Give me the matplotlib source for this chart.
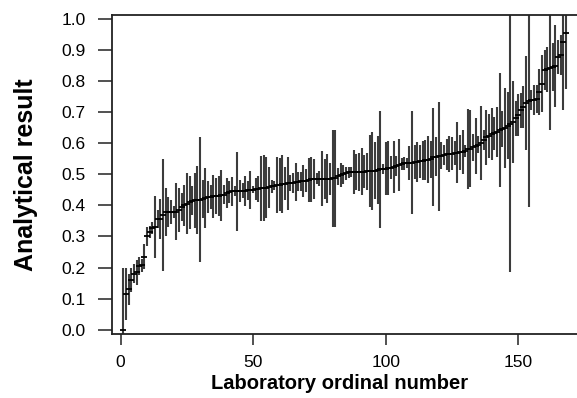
import numpy as np
import matplotlib
matplotlib.use('Agg')
import matplotlib.pyplot as plt

plt.rcParams['font.family'] = ['Liberation Sans', 'DejaVu Sans']

# sorted laboratory results (lab 1..168) and half-width of each uncertainty bar
result = [
    0.000, 0.115, 0.130, 0.160, 0.180, 0.185, 0.205, 0.207, 0.235, 0.300,
    0.315, 0.327, 0.330, 0.356, 0.357, 0.368, 0.378, 0.378, 0.378, 0.379,
    0.380, 0.385, 0.395, 0.400, 0.406, 0.410, 0.415, 0.416, 0.418, 0.419,
    0.420, 0.423, 0.427, 0.428, 0.429, 0.430, 0.431, 0.432, 0.435, 0.440,
    0.442, 0.445, 0.446, 0.446, 0.446, 0.447, 0.447, 0.448, 0.449, 0.450,
    0.452, 0.453, 0.455, 0.456, 0.457, 0.458, 0.461, 0.464, 0.465, 0.467,
    0.469, 0.470, 0.471, 0.472, 0.473, 0.475, 0.476, 0.477, 0.478, 0.480,
    0.482, 0.484, 0.486, 0.486, 0.486, 0.486, 0.486, 0.486, 0.486, 0.487,
    0.488, 0.494, 0.498, 0.500, 0.503, 0.506, 0.508, 0.508, 0.508, 0.508,
    0.509, 0.509, 0.510, 0.510, 0.511, 0.512, 0.514, 0.516, 0.517, 0.518,
    0.520, 0.522, 0.524, 0.527, 0.530, 0.534, 0.535, 0.536, 0.537, 0.538,
    0.539, 0.540, 0.542, 0.544, 0.546, 0.547, 0.548, 0.556, 0.557, 0.558,
    0.560, 0.562, 0.564, 0.566, 0.567, 0.568, 0.570, 0.571, 0.572, 0.576,
    0.581, 0.583, 0.587, 0.591, 0.596, 0.601, 0.610, 0.619, 0.624, 0.629,
    0.632, 0.636, 0.642, 0.646, 0.650, 0.656, 0.662, 0.668, 0.680, 0.692,
    0.706, 0.716, 0.730, 0.736, 0.738, 0.740, 0.743, 0.765, 0.792, 0.835,
    0.838, 0.842, 0.846, 0.849, 0.878, 0.884, 0.927, 0.954,
]
halfwidth = [
    0.200, 0.085, 0.050, 0.040, 0.030, 0.040, 0.030, 0.020, 0.040, 0.030,
    0.020, 0.020, 0.100, 0.030, 0.065, 0.180, 0.078, 0.049, 0.039, 0.019,
    0.091, 0.070, 0.046, 0.065, 0.097, 0.086, 0.046, 0.089, 0.109, 0.202,
    0.062, 0.097, 0.051, 0.038, 0.070, 0.059, 0.065, 0.083, 0.030, 0.048,
    0.035, 0.046, 0.016, 0.127, 0.035, 0.024, 0.048, 0.030, 0.062, 0.011,
    0.035, 0.043, 0.105, 0.105, 0.099, 0.065, 0.022, 0.016, 0.091, 0.086,
    0.094, 0.054, 0.086, 0.027, 0.032, 0.062, 0.030, 0.030, 0.051, 0.038,
    0.070, 0.073, 0.065, 0.017, 0.024, 0.089, 0.065, 0.078, 0.051, 0.156,
    0.156, 0.027, 0.038, 0.030, 0.022, 0.017, 0.016, 0.070, 0.059, 0.062,
    0.075, 0.054, 0.059, 0.116, 0.126, 0.091, 0.108, 0.188, 0.016, 0.086,
    0.086, 0.038, 0.083, 0.032, 0.083, 0.019, 0.022, 0.016, 0.054, 0.167,
    0.054, 0.065, 0.054, 0.062, 0.065, 0.075, 0.059, 0.159, 0.062, 0.175,
    0.043, 0.032, 0.051, 0.059, 0.054, 0.038, 0.097, 0.056, 0.070, 0.019,
    0.129, 0.124, 0.043, 0.089, 0.027, 0.118, 0.032, 0.089, 0.070, 0.083,
    0.054, 0.081, 0.183, 0.059, 0.129, 0.108, 0.477, 0.132, 0.056, 0.067,
    0.056, 0.067, 0.151, 0.341, 0.032, 0.048, 0.046, 0.075, 0.091, 0.065,
    0.073, 0.200, 0.078, 0.132, 0.056, 0.065, 0.220, 0.178,
]
lab = np.arange(1, len(result) + 1)
yticks = [0.0, 0.1, 0.2, 0.3, 0.4, 0.5, 0.6, 0.7, 0.8, 0.9, 1.0]
xticks = [0, 50, 100, 150]

fig = plt.figure(figsize=(5.77, 3.98), dpi=100)
ax = fig.add_axes([0.1941, 0.1608, 0.8059, 0.8015])

ax.errorbar(lab, result, yerr=halfwidth, fmt='none', ecolor='#3c3c3c',
            elinewidth=1.5, capsize=0)
ax.plot(lab, result, linestyle='none', marker='_', markersize=4,
        markeredgewidth=1.3, color='black')

ax.set_xlim(-3.25, 172.2)
ax.set_ylim(-0.014, 1.013)
ax.set_xticks(xticks)
ax.set_yticks(yticks)
ax.set_yticklabels(['%.1f' % v for v in yticks])

for s in ['left', 'bottom', 'top']:
    ax.spines[s].set_linewidth(1.3)
    ax.spines[s].set_color('#222222')
ax.spines['right'].set_visible(False)

ax.tick_params(axis='y', length=10, width=1.1, pad=9, labelsize=12.5, color='#222222')
ax.tick_params(axis='x', length=8, width=1.1, pad=7, labelsize=12.5, color='#222222')

ax.set_xlabel('Laboratory ordinal number', fontsize=14.5, fontweight='bold')
ax.set_ylabel('Analytical result', fontsize=18, fontweight='bold')
ax.xaxis.set_label_coords(0.49, -0.125)
ax.yaxis.set_label_coords(-0.159, 0.5)

fig.savefig('out.png', dpi=100)
